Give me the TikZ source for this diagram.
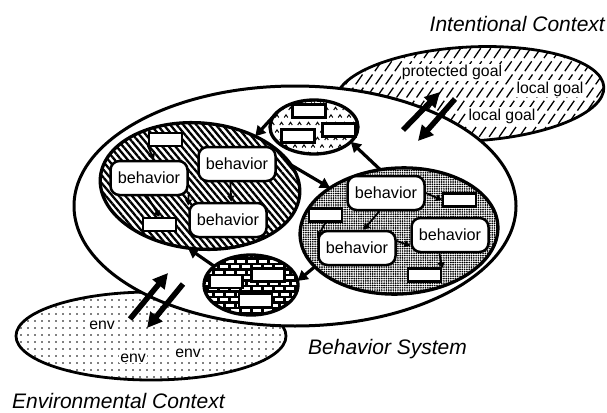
\documentclass[tikz,border=0pt]{standalone}
\usepackage{fontspec}
\setmainfont{Liberation Sans}
\usetikzlibrary{arrows.meta,shapes.geometric,patterns.meta}
\begin{document}
\begin{tikzpicture}[x=1pt,y=-1pt,
  beh/.style={draw, line width=2.5pt, fill=white, rounded corners=9pt, minimum width=77pt, minimum height=34pt, inner sep=0pt, font=\fontsize{16.2}{18}\selectfont},
  box/.style={draw, line width=2.2pt, fill=white, minimum width=33pt, minimum height=13pt, inner sep=0pt},
  ring/.style={ellipse, draw, line width=3pt, inner sep=0pt, outer sep=0pt},
  lbl/.style={font=\fontsize{15.8}{18}\selectfont, fill=white, inner sep=1.2pt},
  ctx/.style={font=\fontsize{21}{25}\selectfont\itshape, inner sep=0pt},
  link/.style={line width=3.2pt, -{Triangle[length=10pt,width=11pt]}},
  flow/.style={line width=5.5pt, -{Triangle[length=15pt,width=15pt]}},
  tiny/.style={line width=1.8pt, -{Triangle[length=6pt,width=7pt]}},
]
\fill[white] (0,0) rectangle (607,412);
\path[use as bounding box] (0,0) rectangle (607,412);

% Intentional context
\begin{scope}
  \clip[rotate around={3:(470,94)}] (470,94) ellipse [x radius=134pt, y radius=47pt];
  \foreach \i in {0,...,40} \draw[line width=1.3pt, dash pattern=on 12pt off 4pt] ({250+10*\i},150) -- ++(80,-115);
\end{scope}
\node[ring, line width=2.8pt, minimum width=268pt, minimum height=94pt, rotate=3] (ic) at (470,94) {};

% Environmental context
\path[pattern={Dots[distance=7pt,radius=0.85pt]}] (151,336) ellipse [x radius=135pt, y radius=44pt];
\node[ring, line width=2.8pt, minimum width=270pt, minimum height=88pt] (ec) at (151,336) {};

% Behavior system
\node[ring, fill=white, minimum width=442pt, minimum height=240pt] (bs) at (295,206) {};

% striped group
\path[rotate around={-5:(200,186)}, pattern={Lines[angle=-50,distance=5pt,line width=2.3pt]}] (200,186) ellipse [x radius=100pt, y radius=63pt];
\node[ring, line width=3.3pt, minimum width=200pt, minimum height=126pt, rotate=-5] (L) at (200,186) {};

% stippled group
\path[rotate around={3:(399,231)}, pattern={Dots[distance=2.3pt,radius=0.95pt]}] (399,231) ellipse [x radius=99pt, y radius=63pt];
\node[ring, line width=3.3pt, minimum width=198pt, minimum height=126pt, rotate=3] (R) at (399,231) {};

% small caret group
\begin{scope}
  \clip (314,127) ellipse [x radius=44pt, y radius=27pt];
  \foreach \r in {0,...,7} \foreach \c in {0,...,10} {
    \pgfmathsetmacro\xx{268+\c*9+mod(\r,2)*4.5}
    \pgfmathsetmacro\yy{101+\r*7.5}
    \draw[line width=1pt] (\xx-1.8,\yy+1.5) -- (\xx,\yy-1.2) -- (\xx+1.8,\yy+1.5);
  }
\end{scope}
\node[ring, line width=3.3pt, minimum width=88pt, minimum height=54pt] (S) at (314,127) {};

% brick group
\begin{scope}
  \clip (251,285) ellipse [x radius=47pt, y radius=30pt];
  \fill[black] (200,250) rectangle (300,320);
  \foreach \r in {0,...,11} \foreach \c in {0,...,10} {
    \pgfmathsetmacro\xx{198+\c*11+mod(\r,2)*5.5}
    \pgfmathsetmacro\yy{254+\r*5.5}
    \fill[white] (\xx,\yy) rectangle ++(8,3.3);
  }
\end{scope}
\node[ring, line width=3.3pt, minimum width=94pt, minimum height=60pt] (K) at (251,285) {};

% behaviors and boxes
\node[beh] (b1) at (149,178) {behavior};
\node[beh] (b2) at (237,164) {behavior};
\node[beh] (b3) at (228,220) {behavior};
\node[box] (r4) at (165.5,139.5) {};
\node[box] (r5) at (159.5,224.5) {};
\node[beh] (b4) at (386,193) {behavior};
\node[beh] (b5) at (450,235) {behavior};
\node[beh] (b6) at (357,248) {behavior};
\node[box] (r1) at (459.5,200) {};
\node[box] (r2) at (325.5,215) {};
\node[box] (r3) at (424.5,275) {};
\node[box] (s1) at (309,111) {};
\node[box] (s2) at (339,130) {};
\node[box] (s3) at (298,136) {};
\node[box] (k1) at (226,281.5) {};
\node[box] (k2) at (268,275) {};
\node[box] (k3) at (255.5,300.5) {};

% internal links
\draw[tiny] (r4.200) -- (b1.75);
\draw[tiny] (b2.250) -- (b3.80);
\draw[tiny] (b1.-20) -- (b3.160);
\draw[tiny] (b1.265) -- (r5.north);
\draw[tiny] (b4.east) -- (r1.west);
\draw[tiny] (b4.250) -- (b6.70);
\draw[tiny] (b6.10) -- (b5.195);
\draw[tiny] (b5.240) -- (r3.20);
\draw[tiny] (r2.south) -- (b6.165);

% links between groups
\draw[link] (S.158) -- (L.47);
\draw[link] (L.18) -- (R.145);
\draw[link] (R.104) -- (S.338);
\draw[link] (R.200) -- (K.5);
\draw[link] (K.153) -- (L.264);

% context flows
\coordinate (e1) at (130,319); \coordinate (e2) at (168,273);
\coordinate (e3) at (183,284); \coordinate (e4) at (147,328);
\coordinate (i1) at (403,130); \coordinate (i2) at (440,92);
\coordinate (i3) at (455,99); \coordinate (i4) at (418,141);
\draw[flow] (e1) -- (e2);
\draw[flow] (e3) -- (e4);
\draw[flow] (i1) -- (i2);
\draw[flow] (i3) -- (i4);

% labels
\node[ctx, anchor=base east] (tI) at (605,32) {Intentional Context};
\node[ctx, anchor=base west] (tB) at (308,354) {Behavior System};
\node[ctx, anchor=base west] (tE) at (12,408) {Environmental Context};
\node[lbl, anchor=base] (g1) at (452,77) {protected goal};
\node[lbl, anchor=base] (g2) at (550,93) {local goal};
\node[lbl, anchor=base] (g3) at (502,120) {local goal};
\node[lbl, anchor=base] (v1) at (102,329) {env};
\node[lbl, anchor=base] (v2) at (133,362) {env};
\node[lbl, anchor=base] (v3) at (188,357) {env};
\end{tikzpicture}
\end{document}
